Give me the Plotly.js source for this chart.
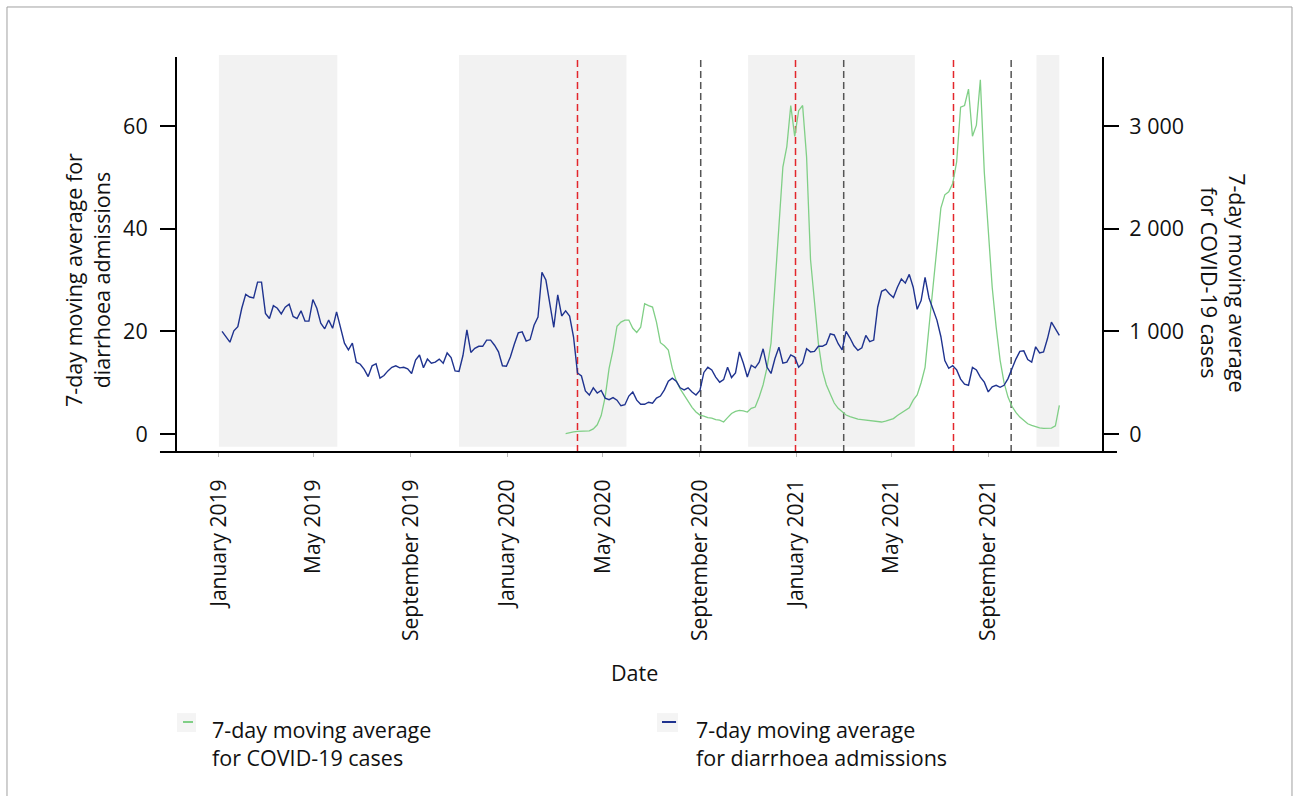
<!DOCTYPE html>
<html>
<head>
<meta charset="utf-8">
<script src="https://cdn.plot.ly/plotly-3.0.1.min.js"></script>
<style>html,body{margin:0;padding:0;background:#fff;}#chart{width:1293px;height:796px;}</style>
</head>
<body>
<div id="chart"></div>
<script>
// ---- data ----
const admissionsStart = '2019-01-05';
const admissionsStepDays = 5;
const admissionsMA7 = [
 20.0,19.0,17.9,20.1,20.9,24.5,27.2,26.7,26.5,29.6,
 29.6,23.5,22.5,25.0,24.5,23.4,24.7,25.3,22.9,22.5,
 24.0,22.0,22.0,26.2,24.5,21.6,20.5,22.2,20.6,23.8,
 20.8,17.7,16.4,17.7,14.0,13.6,12.6,11.2,13.3,13.7,
 10.9,11.4,12.3,13.0,13.3,12.9,13.0,12.7,11.8,14.4,
 15.4,12.9,14.6,13.8,14.0,14.6,13.8,15.8,14.9,12.3,
 12.2,15.3,20.3,15.9,16.7,17.1,17.1,18.3,18.3,17.3,
 16.0,13.3,13.2,15.0,17.5,19.7,19.9,18.1,18.4,21.2,
 22.8,31.5,30.0,25.0,20.8,27.1,23.0,24.0,23.0,18.9,
 11.9,11.3,8.4,7.6,9.0,8.0,8.5,7.0,6.7,7.1,
 6.6,5.5,5.7,7.4,8.2,6.6,5.8,5.8,6.2,6.0,
 7.0,7.4,8.6,10.3,10.9,10.3,9.0,8.6,9.0,8.2,
 7.6,8.5,12.0,13.0,12.5,11.1,10.1,10.6,13.0,11.0,
 11.9,16.0,13.8,11.1,13.4,12.9,14.0,16.6,13.0,11.8,
 14.7,16.9,13.8,14.0,15.4,15.0,13.0,13.8,16.6,16.0,
 16.1,17.1,17.1,17.5,19.5,19.3,17.6,16.4,20.0,18.7,
 17.2,16.3,16.8,19.2,18.0,18.3,24.7,27.8,28.2,27.3,
 26.6,28.6,30.2,29.4,31.1,28.6,24.3,26.0,30.5,26.5,
 24.5,22.2,19.0,14.3,12.8,13.3,12.5,10.7,9.7,9.5,
 13.0,12.5,11.1,10.1,8.2,9.2,9.5,9.1,9.5,10.8,
 12.7,14.6,16.1,16.2,14.5,14.0,17.0,15.8,16.0,18.6,
 21.8,20.5,19.2
];

const covidStart = '2020-03-15';
const covidStepDays = 5;
const covidMA7 = [
 5,15,20,25,28,28,30,50,90,180,
 360,640,820,1050,1090,1110,1110,1030,990,1040,
 1270,1250,1237,1090,890,860,818,640,520,440,
 380,312,260,215,185,175,160,155,140,135,
 117,160,200,220,230,225,214,250,263,360,
 480,650,886,1450,2000,2600,2800,3200,2900,3150,
 3200,2700,1700,1250,880,620,480,390,302,250,
 215,185,170,156,145,140,136,135,125,120,
 117,125,135,150,180,204,230,255,330,380,
 500,650,1042,1430,1820,2200,2330,2360,2440,2650,
 3184,3200,3360,2900,3009,3450,2550,2000,1430,1042,
 720,500,360,270,210,165,130,100,85,70,
 60,55,55,58,80,280
];

const seasonStarts = ['2019-01-01','2019-11-01','2020-11-01','2021-11-01'];
const seasonEnds   = ['2019-05-31','2020-05-31','2021-05-31','2021-11-30'];
const redLineDates  = ['2020-03-30','2020-12-31','2021-07-19'];
const greyLineDates = ['2020-09-02','2021-03-02','2021-09-30'];

const xTickVals = ['2019-01-01','2019-05-01','2019-09-01','2020-01-01','2020-05-01','2020-09-01','2021-01-01','2021-05-01','2021-09-01'];
const leftTickVals = [0,20,40,60];
const rightTickVals = [0,1000,2000,3000];

const covidLabel = '7-day moving average<br>for COVID-19 cases';
const admissionsLabel = '7-day moving average<br>for diarrhoea admissions';

// ---- helpers ----
function dateSeries(start, step, n) {
  const t0 = Date.parse(start + 'T00:00:00Z');
  const out = [];
  for (let i = 0; i < n; i++) out.push(new Date(t0 + i * step * 86400000).toISOString().slice(0, 10));
  return out;
}

const FONT = 'Open Sans, Lato, sans-serif';
const BLUE = '#1f338f';
const GREEN = '#80cf86';

const traces = [
  { x: dateSeries(covidStart, covidStepDays, covidMA7.length), y: covidMA7, yaxis: 'y',
    type: 'scatter', mode: 'lines', line: { color: GREEN, width: 1.3 }, name: 'COVID', showlegend: false, hoverinfo: 'x+y' },
  { x: dateSeries(admissionsStart, admissionsStepDays, admissionsMA7.length), y: admissionsMA7, yaxis: 'y2',
    type: 'scatter', mode: 'lines', line: { color: BLUE, width: 1.4 }, name: 'Diarrhoea', showlegend: false, hoverinfo: 'x+y' }
];

const shapes = [];
seasonStarts.forEach((s, i) => shapes.push({ type: 'rect', layer: 'below', xref: 'x', yref: 'paper',
  x0: s, x1: seasonEnds[i], y0: 0.013, y1: 1.005, fillcolor: '#f2f2f2', line: { width: 0 } }));
redLineDates.forEach(d => shapes.push({ type: 'line', layer: 'below', xref: 'x', yref: 'paper',
  x0: d, x1: d, y0: 0, y1: 1, line: { color: '#e3262c', width: 1.5, dash: '7px,4px' } }));
greyLineDates.forEach(d => shapes.push({ type: 'line', layer: 'below', xref: 'x', yref: 'paper',
  x0: d, x1: d, y0: 0, y1: 1, line: { color: '#555555', width: 1.5, dash: '7px,4px' } }));
// extended x axis line
shapes.push({ type: 'line', xref: 'paper', yref: 'paper', x0: -0.0184, x1: 1.0162, y0: 0, y1: 0, line: { color: '#000', width: 2 } });
// outer frame
shapes.push({ type: 'line', xref: 'paper', yref: 'paper', x0: -0.1838, x1: 1.2054, y0: 1.1266, y1: 1.1266, line: { color: '#a0a0a0', width: 1 } });
shapes.push({ type: 'line', xref: 'paper', yref: 'paper', x0: -0.1838, x1: -0.1838, y0: 1.1266, y1: -0.88, line: { color: '#a0a0a0', width: 1 } });
shapes.push({ type: 'line', xref: 'paper', yref: 'paper', x0: 1.2054, x1: 1.2054, y0: 1.1266, y1: -0.88, line: { color: '#a0a0a0', width: 1 } });
// legend symbols
const legendItems = [
  { box0: 0.0, box1: 0.0205, dash0: 0.0065, dash1: 0.0173, color: GREEN, textX: 0.0357, text: covidLabel },
  { box0: 0.5189, box1: 0.5416, dash0: 0.5243, dash1: 0.5395, color: BLUE, textX: 0.5589, text: admissionsLabel }
];
legendItems.forEach(it => {
  shapes.push({ type: 'rect', xref: 'paper', yref: 'paper', x0: it.box0, x1: it.box1, y0: -0.709, y1: -0.661, fillcolor: '#f4f4f4', line: { width: 0 } });
  shapes.push({ type: 'line', xref: 'paper', yref: 'paper', x0: it.dash0, x1: it.dash1, y0: -0.6835, y1: -0.6835, line: { color: it.color, width: 2 } });
});

const annotations = [
  { xref: 'paper', yref: 'paper', x: -0.0973, y: 0.4354, textangle: -90, showarrow: false,
    text: '7-day moving average for<br>diarrhoea admissions', font: { family: FONT, size: 21.5, color: '#111' }, xanchor: 'center', yanchor: 'middle' },
  { xref: 'paper', yref: 'paper', x: 1.1319, y: 0.430, textangle: 90, showarrow: false,
    text: '7-day moving average<br>for COVID-19 cases', font: { family: FONT, size: 21.5, color: '#111' }, xanchor: 'center', yanchor: 'middle' },
  { xref: 'paper', yref: 'paper', x: 0.495, y: -0.557, showarrow: false, text: 'Date',
    font: { family: FONT, size: 21.5, color: '#111' }, xanchor: 'center', yanchor: 'middle' }
];
legendItems.forEach(it => annotations.push({ xref: 'paper', yref: 'paper', x: it.textX, y: -0.737, showarrow: false,
  text: it.text, align: 'left', xanchor: 'left', yanchor: 'middle', font: { family: FONT, size: 21.5, color: '#111' } }));

const axisFont = { family: FONT, size: 21.5, color: '#111' };
const layout = {
  width: 1293, height: 796,
  margin: { l: 177, r: 191, t: 57, b: 344, pad: 0 },
  paper_bgcolor: '#fff', plot_bgcolor: 'rgba(0,0,0,0)',
  font: { family: FONT, size: 21.5, color: '#111' },
  separators: '. ',
  showlegend: false,
  xaxis: {
    type: 'date', range: ['2018-11-09', '2022-01-23'],
    tickmode: 'array', tickvals: xTickVals, tickformat: '%B %Y', tickangle: -90,
    ticks: 'outside', ticklen: 4, tickwidth: 1, tickcolor: '#bbbbbb',
    ticklabelstandoff: 14,
    showline: false, showgrid: false, zeroline: false, tickfont: { family: FONT, size: 21, color: '#111' }
  },
  yaxis: {
    side: 'right', range: [-175, 3672.5], tickmode: 'array', tickvals: rightTickVals,
    separatethousands: true, ticks: 'outside', ticklen: 15, tickwidth: 2, tickcolor: '#000',
    showline: true, linewidth: 2, linecolor: '#000', showgrid: false, zeroline: false, tickfont: axisFont,
    ticklabelstandoff: 6
  },
  yaxis2: {
    overlaying: 'y', side: 'left', range: [-3.5, 73.45], tickmode: 'array', tickvals: leftTickVals,
    ticks: 'outside', ticklen: 15, tickwidth: 2, tickcolor: '#000',
    showline: true, linewidth: 2, linecolor: '#000', showgrid: false, zeroline: false, tickfont: axisFont,
    ticklabelstandoff: 8
  },
  shapes: shapes,
  annotations: annotations
};

Plotly.newPlot('chart', traces, layout, { displayModeBar: false, staticPlot: true });
</script>
</body>
</html>
